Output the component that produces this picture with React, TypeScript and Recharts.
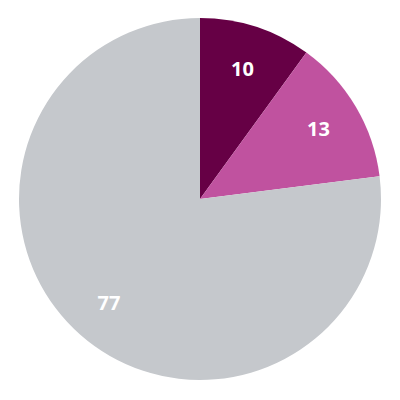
import React from 'react';
import { PieChart, Pie, Cell } from 'recharts';

const labels = ['A', 'B', 'C'];
const values = [10, 13, 77];
const colors = ['#660045', '#C0529F', '#C5C8CC'];

const data = labels.map((name, i) => ({ name, value: values[i] }));

const RAD = Math.PI / 180;

const renderLabel = (props: any) => {
  const { cx, cy, midAngle, outerRadius, value } = props;
  const r = outerRadius * 0.76;
  const x = cx + r * Math.cos(-midAngle * RAD);
  const y = cy + r * Math.sin(-midAngle * RAD);
  return (
    <text
      x={x}
      y={y}
      fill="#fff"
      textAnchor="middle"
      dominantBaseline="central"
      fontFamily="'Open Sans', sans-serif"
      fontWeight={700}
      fontSize={20}
    >
      {value}
    </text>
  );
};

const App: React.FC = () => (
  <PieChart width={400} height={400} margin={{ top: 0, right: 0, bottom: 0, left: 0 }}>
    <Pie
      data={data}
      dataKey="value"
      cx={192}
      cy={191}
      outerRadius={181}
      startAngle={90}
      endAngle={-270}
      stroke="none"
      label={renderLabel}
      labelLine={false}
      isAnimationActive={false}
    >
      {data.map((d, i) => (
        <Cell key={d.name} fill={colors[i]} />
      ))}
    </Pie>
  </PieChart>
);

export default App;
